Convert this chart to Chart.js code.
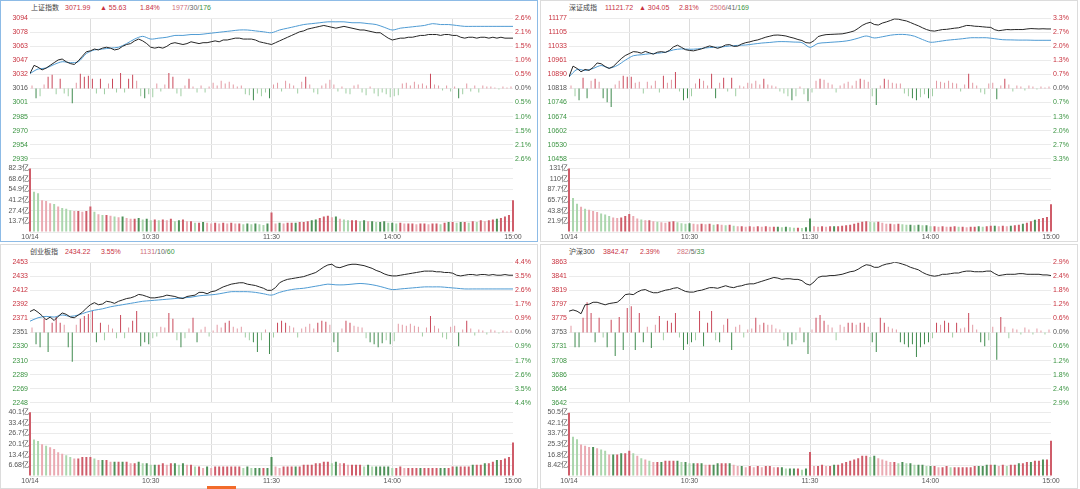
<!DOCTYPE html>
<html>
<head>
<meta charset="utf-8">
<script src="https://cdn.jsdelivr.net/npm/chart.js@4.4.1/dist/chart.umd.min.js"></script>
<style>
    body { margin: 0; width: 1080px; height: 489px; background: #fff; position: relative; overflow: hidden;
           font-family: "Liberation Sans", "Noto Sans CJK SC", sans-serif; }
    .box { position: absolute; box-sizing: border-box; border: 1px solid #dcdcdc; }
    .box.active { border-color: #8dbbe6; }
    canvas { position: absolute; }
    .h { position: absolute; font-size: 7px; line-height: 9px; white-space: nowrap; }
    .n { color: #444; } .r { color: #c8323f; } .p { color: #d0707c; } .g { color: #3b9442; } .d { color: #666; }
    #thumb { position: absolute; left: 207px; top: 486px; width: 29px; height: 3px; background: #f26b2a; }
</style>
</head>
<body>
<div class="box active" style="left:0;top:0;width:538px;height:242px"></div>
<div class="box" style="left:540px;top:0;width:538px;height:242px"></div>
<div class="box" style="left:0;top:244px;width:538px;height:245px"></div>
<div class="box" style="left:540px;top:244px;width:538px;height:245px"></div>

<span class="h n" style="left:31px;top:3px">上证指数</span>
<span class="h r" style="left:65px;top:3px">3071.99</span>
<span class="h r" style="left:100px;top:3px">▲ 55.63</span>
<span class="h r" style="left:140px;top:3px">1.84%</span>
<span class="h" style="left:172px;top:3px"><span class="p">1977</span><span class="d">/30/</span><span class="g">176</span></span>

<span class="h n" style="left:569px;top:3px">深证成指</span>
<span class="h r" style="left:605px;top:3px">11121.72</span>
<span class="h r" style="left:639px;top:3px">▲ 304.05</span>
<span class="h r" style="left:679px;top:3px">2.81%</span>
<span class="h" style="left:710px;top:3px"><span class="p">2506</span><span class="d">/41/</span><span class="g">169</span></span>

<span class="h n" style="left:30px;top:247px">创业板指</span>
<span class="h r" style="left:65px;top:247px">2434.22</span>
<span class="h r" style="left:101px;top:247px">3.55%</span>
<span class="h" style="left:140px;top:247px"><span class="p">1131</span><span class="d">/10/</span><span class="g">60</span></span>

<span class="h n" style="left:569px;top:247px">沪深300</span>
<span class="h r" style="left:603px;top:247px">3842.47</span>
<span class="h r" style="left:640px;top:247px">2.39%</span>
<span class="h" style="left:677px;top:247px"><span class="p">282</span><span class="d">/5/</span><span class="g">33</span></span>

<div id="thumb"></div>

<script>
// time axis: minutes after 9:30 (0..240, lunch break removed)
const gridMinutes = [0, 30, 60, 90, 120, 150, 180, 210, 240];
const timeTicks = [0, 60, 120, 180, 240];
const timeLabels = ['10/14', '10:30', '11:30', '14:00', '15:00'];

// 上证指数: price every 2 min, average every 4 min, strength bars every 2 min, volume (亿) every 2 min
const ssePrice = [
    3033, 3042, 3040, 3037, 3039, 3042, 3045, 3048, 3049, 3046,
    3044, 3043, 3047, 3052, 3057, 3058, 3060, 3059, 3061, 3062,
    3061, 3059, 3060, 3063, 3065, 3066, 3069, 3071, 3069, 3066,
    3062, 3061, 3062, 3061, 3063, 3066, 3067, 3066, 3065, 3066,
    3068, 3067, 3066, 3067, 3067, 3068, 3069, 3068, 3070, 3070,
    3071, 3072, 3072, 3071, 3071, 3071, 3070, 3068, 3067, 3066,
    3065, 3067, 3069, 3071, 3073, 3075, 3077, 3079, 3080, 3082,
    3083, 3084, 3085, 3086, 3085, 3084, 3083, 3084, 3085, 3084,
    3083, 3082, 3081, 3081, 3080, 3079, 3078, 3078, 3075, 3072,
    3070, 3071, 3072, 3072, 3073, 3073, 3074, 3075, 3075, 3076,
    3076, 3076, 3075, 3076, 3076, 3075, 3075, 3073, 3072, 3073,
    3073, 3072, 3073, 3073, 3072, 3073, 3072, 3073, 3072, 3072,
    3072];
const sseAvg = [
    3033, 3038, 3039, 3043, 3046, 3045, 3046, 3055, 3059, 3060,
    3061, 3062, 3066, 3071, 3074, 3071, 3072, 3073, 3075, 3075,
    3076, 3076, 3077, 3078, 3079, 3080, 3081, 3081, 3080, 3079,
    3078, 3081, 3083, 3085, 3087, 3088, 3089, 3090, 3090, 3090,
    3089, 3089, 3088, 3087, 3084, 3081, 3083, 3084, 3085, 3086,
    3088, 3087, 3087, 3086, 3085, 3085, 3085, 3085, 3085, 3085,
    3085];
const sseStrength = [
    3, -10, -8, 4, 12, 14, -6, 10, -5, -8,
    -15, 6, 15, 12, 13, 10, -5, 10, -6, 5,
    10, -4, 16, -4, 10, 14, 8, -8, -10, -6,
    -9, 5, -3, 4, 16, 12, -5, -8, 3, 10,
    2, -4, 3, -4, 2, 6, 3, 8, 5, 7,
    4, 2, 3, -6, -7, -12, -5, -8, -4, -10,
    4, 6, -3, 8, 5, 3, -5, 7, 12, 4,
    -4, -6, 3, 5, 9, 4, -3, 2, -5, -6,
    3, 4, -4, -7, 2, -5, -8, -4, -6, -9,
    -8, -7, 5, 6, 3, 7, 4, 5, 3, 15,
    4, 3, -2, 3, -3, 2, -10, -6, 5, -3,
    3, -4, 3, 2, 2, 1, -1, 2, 1, 2];
const sseVolume = [
    82, 52, 50, 41, 40, 37, 36, 33, 31, 30,
    28, 27, 27, 26, 27, 33, 26, 23, 22, 22,
    21, 20, 19, 20, 18, 17, 17, 18, 16, 17,
    15, 16, 15, 16, 15, 17, 14, 15, 16, 14,
    14, 12, 12, 13, 12, 11, 12, 11, 12, 11,
    12, 11, 11, 10, 11, 10, 11, 10, 9, 11,
    25, 11, 12, 11, 12, 12, 12, 13, 13, 14,
    15, 16, 18, 20, 21, 19, 20, 17, 16, 15,
    15, 15, 14, 15, 14, 14, 13, 13, 14, 12,
    12, 11, 12, 11, 11, 11, 10, 11, 11, 10,
    11, 11, 10, 12, 13, 13, 12, 13, 13, 12,
    14, 13, 15, 14, 15, 16, 17, 18, 20, 22,
    41];
const ssePriceLabels = ['3094', '3078', '3063', '3047', '3032', '3016', '3001', '2985', '2970', '2954', '2939'];
const ssePctLabels = ['2.6%', '2.1%', '1.5%', '1.0%', '0.5%', '0.0%', '0.5%', '1.0%', '1.5%', '2.1%', '2.6%'];
const sseVolLabels = ['82.3亿', '68.6亿', '54.9亿', '41.2亿', '27.4亿', '13.7亿'];

// 深证成指
const szPrice = [
    10877, 10932, 10920, 10903, 10915, 10910, 10925, 10948, 10944, 10930,
    10920, 10930, 10950, 10970, 10986, 10996, 11006, 11004, 10998, 11007,
    11000, 10993, 11003, 11006, 11002, 11012, 11030, 11039, 11028, 11016,
    11012, 11010, 11015, 11020, 11028, 11035, 11030, 11023, 11030, 11040,
    11042, 11033, 11034, 11045, 11052, 11056, 11062, 11066, 11073, 11080,
    11085, 11090, 11091, 11089, 11086, 11080, 11075, 11068, 11063, 11052,
    11050, 11062, 11083, 11089, 11093, 11094, 11095, 11096, 11097, 11101,
    11106, 11112, 11125, 11140, 11150, 11156, 11145, 11142, 11152, 11158,
    11165, 11173, 11172, 11167, 11163, 11155, 11146, 11138, 11128, 11119,
    11113, 11111, 11115, 11119, 11120, 11123, 11126, 11128, 11134, 11140,
    11139, 11136, 11135, 11133, 11131, 11130, 11118, 11113, 11116, 11119,
    11118, 11119, 11119, 11119, 11122, 11124, 11123, 11122, 11123, 11122,
    11122];
const szAvg = [
    10877, 10915, 10910, 10920, 10935, 10922, 10935, 10962, 10985, 10990,
    10995, 10998, 11003, 11015, 11020, 11018, 11020, 11025, 11028, 11030,
    11035, 11038, 11040, 11045, 11050, 11053, 11057, 11057, 11055, 11052,
    11028, 11048, 11052, 11055, 11058, 11064, 11075, 11086, 11076, 11082,
    11090, 11094, 11093, 11085, 11068, 11054, 11058, 11064, 11068, 11072,
    11077, 11077, 11077, 11072, 11067, 11066, 11065, 11065, 11064, 11064,
    11064];
const szStrength = [
    3, -8, -12, 11, -10, 8, 10, 7, -10, -14,
    -19, 4, 8, 13, 12, 12, 6, 7, -5, 7,
    3, 8, -4, 13, 6, 9, 17, -3, -12, -10,
    -8, 5, 10, 8, 3, 15, -10, 6, 11, -3,
    11, -8, 3, 2, 6, 5, 8, 4, 10, 4,
    3, 2, -3, -5, -8, -12, -8, 2, -6, -13,
    -4, 8, 10, 9, 6, 4, -4, 3, 5, 7,
    3, 8, 10, 9, 7, -8, -17, 3, 10, 9,
    6, 5, 5, -5, -8, -10, -12, -9, -6, -10,
    -8, 8, 7, 6, 8, 6, 5, -3, 4, 15,
    6, 3, -4, -6, 5, 6, -11, 3, 10, 4,
    -3, 3, 2, -2, 3, 2, -1, 2, 1, 2];
const szVolume = [
    131, 70, 58, 52, 48, 46, 43, 41, 38, 36,
    33, 30, 29, 30, 33, 37, 33, 28, 26, 24,
    24, 22, 21, 20, 19, 21, 22, 20, 18, 17,
    18, 17, 16, 17, 16, 17, 15, 16, 15, 14,
    15, 13, 12, 12, 11, 12, 11, 12, 11, 12,
    11, 11, 11, 10, 11, 10, 9, 9, 8, 10,
    28, 12, 11, 12, 11, 12, 12, 12, 13, 14,
    15, 17, 19, 21, 22, 21, 20, 21, 19, 17,
    17, 16, 17, 16, 15, 15, 14, 15, 14, 14,
    12, 12, 11, 12, 11, 11, 12, 11, 11, 10,
    11, 11, 12, 11, 12, 13, 13, 12, 13, 12,
    13, 14, 15, 17, 19, 22, 25, 27, 29, 31,
    57];
const szPriceLabels = ['11177', '11105', '11033', '10961', '10890', '10818', '10746', '10674', '10602', '10530', '10458'];
const szPctLabels = ['3.3%', '2.7%', '2.0%', '1.3%', '0.7%', '0.0%', '0.7%', '1.3%', '2.0%', '2.7%', '3.3%'];
const szVolLabels = ['131亿', '110亿', '87.7亿', '65.7亿', '43.8亿', '21.9亿'];

// 创业板指
const cybPrice = [
    2381, 2384, 2380, 2375, 2369, 2373, 2368, 2374, 2379, 2377,
    2373, 2372, 2376, 2380, 2386, 2391, 2394, 2391, 2392, 2396,
    2395, 2393, 2396, 2398, 2400, 2401, 2403, 2406, 2405, 2403,
    2401, 2401, 2402, 2403, 2405, 2404, 2403, 2401, 2400, 2403,
    2404, 2405, 2409, 2409, 2407, 2410, 2411, 2414, 2417, 2419,
    2421, 2422, 2423, 2423, 2421, 2420, 2419, 2417, 2415, 2412,
    2412, 2416, 2423, 2426, 2428, 2429, 2430, 2431, 2432, 2434,
    2436, 2438, 2442, 2446, 2449, 2450, 2446, 2445, 2447, 2449,
    2450, 2450, 2449, 2448, 2446, 2444, 2441, 2439, 2436, 2434,
    2433, 2433, 2434, 2435, 2436, 2437, 2438, 2439, 2440, 2440,
    2440, 2439, 2439, 2438, 2438, 2437, 2434, 2433, 2434, 2435,
    2435, 2434, 2435, 2435, 2434, 2435, 2434, 2434, 2435, 2434,
    2434];
const cybAvg = [
    2367, 2372, 2374, 2373, 2376, 2374, 2376, 2380, 2383, 2385,
    2388, 2390, 2392, 2394, 2396, 2397, 2398, 2399, 2400, 2401,
    2402, 2404, 2405, 2406, 2408, 2410, 2410, 2410, 2409, 2407,
    2405, 2409, 2412, 2414, 2415, 2417, 2419, 2421, 2420, 2420,
    2421, 2422, 2421, 2419, 2416, 2413, 2414, 2415, 2416, 2417,
    2417, 2417, 2416, 2415, 2414, 2414, 2414, 2414, 2414, 2414,
    2414];
const cybStrength = [
    5, -12, -15, 14, -20, 10, 16, 10, 8, -15,
    -30, 8, 14, 17, 19, 22, -10, 10, -8, 8,
    4, -6, 18, -6, 5, 12, 22, -14, -10, -12,
    -6, -4, 6, 5, 20, 14, -8, -15, -6, 4,
    15, -10, 3, 6, -4, 2, 8, 5, 10, 12,
    6, 4, 6, -5, -8, -10, -20, -8, 3, -22,
    -5, 10, 12, 10, 7, 5, -5, 4, 6, 9,
    4, 10, 12, 11, 8, -10, -20, 4, 12, 10,
    7, 6, 5, -6, -10, -12, -15, -11, -8, -12,
    -9, 9, 8, 7, 9, 7, 6, -4, 5, 17,
    7, 4, -5, -7, 6, 7, -14, 3, 12, 4,
    -3, 3, 2, -2, 3, 2, -1, 2, 1, 2];
const cybVolume = [
    40, 23, 22, 20, 19, 18, 17, 15, 14, 13,
    12, 11, 11, 12, 12, 12, 11, 10, 10, 10,
    9, 9, 9, 9, 9, 8, 8, 9, 8, 8,
    7, 7, 7, 8, 7, 8, 8, 7, 8, 7,
    7, 6, 6, 5, 6, 5, 6, 6, 6, 6,
    6, 6, 6, 5, 6, 5, 5, 5, 5, 5,
    12, 6, 5, 6, 6, 6, 6, 6, 7, 7,
    7, 8, 8, 9, 9, 8, 9, 8, 8, 7,
    7, 7, 7, 6, 7, 6, 6, 6, 6, 6,
    5, 5, 6, 5, 5, 5, 5, 5, 5, 5,
    5, 5, 5, 5, 5, 6, 6, 6, 6, 6,
    7, 7, 7, 8, 8, 9, 10, 10, 11, 12,
    21];
const cybPriceLabels = ['2453', '2433', '2412', '2392', '2371', '2351', '2330', '2310', '2289', '2269', '2248'];
const cybPctLabels = ['4.4%', '3.5%', '2.6%', '1.7%', '0.9%', '0.0%', '0.9%', '1.7%', '2.6%', '3.5%', '4.4%'];
const cybVolLabels = ['40.1亿', '33.4亿', '26.7亿', '20.1亿', '13.4亿', '6.68亿'];

// 沪深300
const hsPrice = [
    3786, 3788, 3786, 3782, 3796, 3797, 3800, 3800, 3798, 3796,
    3798, 3799, 3800, 3805, 3812, 3813, 3812, 3816, 3819, 3820,
    3817, 3815, 3815, 3817, 3819, 3820, 3822, 3823, 3820, 3817,
    3816, 3816, 3818, 3819, 3821, 3823, 3823, 3822, 3824, 3826,
    3824, 3823, 3825, 3826, 3828, 3829, 3829, 3831, 3833, 3835,
    3837, 3839, 3838, 3836, 3837, 3837, 3836, 3836, 3834, 3829,
    3827, 3832, 3839, 3841, 3841, 3842, 3842, 3843, 3844, 3846,
    3848, 3849, 3852, 3856, 3859, 3858, 3855, 3855, 3858, 3860,
    3861, 3863, 3862, 3860, 3858, 3855, 3853, 3851, 3847, 3844,
    3842, 3841, 3842, 3844, 3844, 3845, 3846, 3846, 3848, 3849,
    3849, 3848, 3848, 3848, 3849, 3849, 3845, 3842, 3843, 3844,
    3844, 3844, 3845, 3845, 3844, 3844, 3844, 3844, 3843, 3843,
    3842];
const hsStrength = [
    7, -15, -15, 15, 31, 20, -10, 15, -5, -15,
    13, -24, 16, -18, 25, 27, -18, 20, -10, 6,
    -16, 8, 17, -8, 12, 10, 20, -5, -18, -12,
    -10, -8, 22, -14, 10, 22, -8, -10, 8, 14,
    -18, 6, 8, -5, 3, 4, 15, 8, 10, 8,
    8, 4, 3, -8, -14, -12, -8, 5, -10, -22,
    3, 15, 18, 12, 8, 5, -8, 8, 6, 10,
    10, 8, 10, 10, 6, -10, -20, 15, 10, 6,
    4, 3, -10, -12, -15, -12, -25, -15, -12, -10,
    -6, 10, 8, 12, 10, -5, 10, 4, 5, 20,
    8, 3, -10, -14, -8, 6, -28, 16, 6, -6,
    4, 3, -2, 5, 3, -2, 4, 2, -2, 3];
const hsVolume = [
    50, 31, 29, 25, 24, 23, 23, 22, 21, 20,
    17, 17, 17, 18, 18, 20, 18, 16, 14, 13,
    12, 11, 11, 11, 12, 12, 12, 12, 11, 11,
    10, 10, 10, 10, 9, 9, 9, 10, 10, 10,
    10, 9, 8, 8, 7, 8, 7, 8, 7, 8,
    8, 7, 7, 7, 6, 6, 6, 6, 5, 6,
    19, 8, 8, 9, 8, 8, 9, 9, 10, 11,
    12, 13, 14, 16, 16, 15, 16, 14, 13, 12,
    11, 11, 10, 11, 10, 10, 9, 9, 9, 8,
    8, 8, 7, 7, 8, 7, 7, 7, 7, 7,
    7, 8, 8, 8, 9, 9, 9, 8, 9, 8,
    9, 9, 10, 10, 11, 11, 12, 12, 13, 13,
    28];
const hsPriceLabels = ['3863', '3841', '3819', '3797', '3775', '3753', '3731', '3708', '3686', '3664', '3642'];
const hsPctLabels = ['2.9%', '2.4%', '1.8%', '1.2%', '0.6%', '0.0%', '0.6%', '1.2%', '1.8%', '2.4%', '2.9%'];
const hsVolLabels = ['50.5亿', '42.1亿', '33.7亿', '25.3亿', '16.8亿', '8.42亿'];

const FONT = '"Liberation Sans", "Noto Sans CJK SC", sans-serif';
const RED = '#c8323f';
const GREEN = '#3b9442';
const GRAY = '#555555';
const GRID = '#ebebeb';
const VGRID = '#dcdcdc';

// panels: data + where they sit on the page
const panels = [
    { left: 0, top: 0, axisLeft: 30, axisRight: 25, price: ssePrice, avg: sseAvg, strength: sseStrength, volume: sseVolume,
      priceLabels: ssePriceLabels, pctLabels: ssePctLabels, volLabels: sseVolLabels, max: 3094, min: 2939, volMax: 82.3 },
    { left: 540, top: 0, axisLeft: 29, axisRight: 27, price: szPrice, avg: szAvg, strength: szStrength, volume: szVolume,
      priceLabels: szPriceLabels, pctLabels: szPctLabels, volLabels: szVolLabels, max: 11177, min: 10458, volMax: 131.4 },
    { left: 0, top: 244, axisLeft: 30, axisRight: 25, price: cybPrice, avg: cybAvg, strength: cybStrength, volume: cybVolume,
      priceLabels: cybPriceLabels, pctLabels: cybPctLabels, volLabels: cybVolLabels, max: 2453, min: 2248, volMax: 40.1 },
    { left: 540, top: 244, axisLeft: 29, axisRight: 27, price: hsPrice, avg: null, strength: hsStrength, volume: hsVolume,
      priceLabels: hsPriceLabels, pctLabels: hsPctLabels, volLabels: hsVolLabels, max: 3863, min: 3642, volMax: 50.5 }
];

// Function to add a canvas at a fixed place on the page
function makeCanvas(left, top, width, height) {
    let c = document.createElement('canvas');
    c.width = width;
    c.height = height;
    c.style.left = left + 'px';
    c.style.top = top + 'px';
    document.body.appendChild(c);
    return c;
}

function levelColor(k) {
    return k < 5 ? RED : (k > 5 ? GREEN : GRAY);
}

// Function to draw price line, average line and the strength bars
function drawPriceChart(p) {
    let step = (p.max - p.min) / 10;
    let levels = p.priceLabels.map((t, k) => p.max - k * step);
    let levelOf = (v) => Math.round((p.max - v) / step);
    let font = { family: FONT, size: 7 };

    let datasets = [{
        type: 'line',
        data: p.price.map((v, i) => ({ x: i * 2, y: v })),
        borderColor: '#262626', borderWidth: 1, pointRadius: 0, tension: 0, yAxisID: 'y', order: 1
    }];
    if (p.avg) {
        datasets.push({
            type: 'line',
            data: p.avg.map((v, i) => ({ x: i * 4, y: v })),
            borderColor: '#4f9bd3', borderWidth: 1, pointRadius: 0, tension: 0.3, yAxisID: 'y', order: 2
        });
    }
    datasets.push({
        type: 'bar',
        data: p.strength.map((v, i) => ({ x: i * 2 + 1, y: v })),
        yAxisID: 'yStrength', barThickness: 1, inflateAmount: 0, order: 3,
        backgroundColor: (ctx) => {
            let v = ctx.raw ? ctx.raw.y : 0;
            if (v >= 0) return Math.abs(v) > 9 ? '#c9485a' : '#e39aa4';
            return Math.abs(v) > 9 ? '#3f8a4e' : '#9fcea3';
        }
    });

    new Chart(makeCanvas(p.left, p.top + 12, 538, 153), {
        type: 'line',
        data: { datasets: datasets },
        options: {
            responsive: false, animation: false, devicePixelRatio: 1,
            layout: { padding: { top: 5, bottom: 5 } },
            plugins: { legend: { display: false }, tooltip: { enabled: false } },
            scales: {
                x: {
                    type: 'linear', min: 0, max: 240, offset: false,
                    afterBuildTicks: (s) => { s.ticks = gridMinutes.slice(1, -1).map(v => ({ value: v })); },
                    afterFit: (s) => { s.height = 0; },
                    ticks: { display: false },
                    grid: { color: VGRID, drawTicks: false, offset: false },
                    border: { display: false }
                },
                y: {
                    position: 'left', min: p.min, max: p.max,
                    afterBuildTicks: (s) => { s.ticks = levels.map(v => ({ value: v })); },
                    afterFit: (s) => { s.width = p.axisLeft; },
                    ticks: {
                        autoSkip: false, padding: 2, font: font,
                        callback: (v) => p.priceLabels[levelOf(v)],
                        color: (c) => levelColor(levelOf(c.tick.value))
                    },
                    grid: { color: GRID, drawTicks: false },
                    border: { display: false }
                },
                yPct: {
                    position: 'right', min: p.min, max: p.max,
                    afterBuildTicks: (s) => { s.ticks = levels.map(v => ({ value: v })); },
                    afterFit: (s) => { s.width = p.axisRight; },
                    ticks: {
                        autoSkip: false, padding: 2, font: font,
                        callback: (v) => p.pctLabels[levelOf(v)],
                        color: (c) => levelColor(levelOf(c.tick.value))
                    },
                    grid: { display: false, drawTicks: false },
                    border: { display: false }
                },
                yStrength: { display: false, min: -72, max: 72 }
            }
        }
    });
}

// Function to draw the volume bars under a price chart
function drawVolumeChart(p) {
    let step = p.volMax / 6;
    let levels = [0, 1, 2, 3, 4, 5, 6].map(k => k * step);
    let font = { family: FONT, size: 7 };
    let colors = p.volume.map((v, i) => {
        let up = p.strength[Math.min(i, p.strength.length - 1)] >= 0;
        let rising = i === 0 || v >= p.volume[i - 1];
        if (up) return rising ? '#cf5d6a' : '#eaaab2';
        return rising ? '#4f9159' : '#abd6ad';
    });

    new Chart(makeCanvas(p.left, p.top + 163, 538, 79), {
        type: 'bar',
        data: {
            datasets: [{
                data: p.volume.map((v, i) => ({ x: i * 2, y: v })),
                backgroundColor: colors, barThickness: 2, inflateAmount: 0, clip: 3
            }]
        },
        options: {
            responsive: false, animation: false, devicePixelRatio: 1,
            layout: { padding: { top: 5, right: p.axisRight } },
            plugins: { legend: { display: false }, tooltip: { enabled: false } },
            scales: {
                x: {
                    type: 'linear', min: 0, max: 240, offset: false,
                    afterBuildTicks: (s) => { s.ticks = gridMinutes.map(v => ({ value: v })); },
                    afterFit: (s) => { s.height = 10; },
                    ticks: {
                        autoSkip: false, maxRotation: 0, padding: 1, font: font, color: GRAY,
                        callback: (v) => { let k = timeTicks.indexOf(v); return k < 0 ? '' : timeLabels[k]; }
                    },
                    grid: {
                        drawTicks: false, offset: false,
                        color: (c) => (c.tick && (c.tick.value === 0 || c.tick.value === 240)) ? 'rgba(0,0,0,0)' : VGRID
                    },
                    border: { display: false }
                },
                y: {
                    min: 0, max: p.volMax,
                    afterBuildTicks: (s) => { s.ticks = levels.map(v => ({ value: v })); },
                    afterFit: (s) => { s.width = p.axisLeft; },
                    ticks: {
                        autoSkip: false, padding: 1, font: font, color: GRAY,
                        callback: (v) => { let k = Math.round(v / step); return k === 0 ? '' : p.volLabels[6 - k]; }
                    },
                    grid: { color: GRID, drawTicks: false },
                    border: { display: false }
                }
            }
        }
    });
}

panels.forEach((p) => {
    drawPriceChart(p);
    drawVolumeChart(p);
});
</script>
</body>
</html>
